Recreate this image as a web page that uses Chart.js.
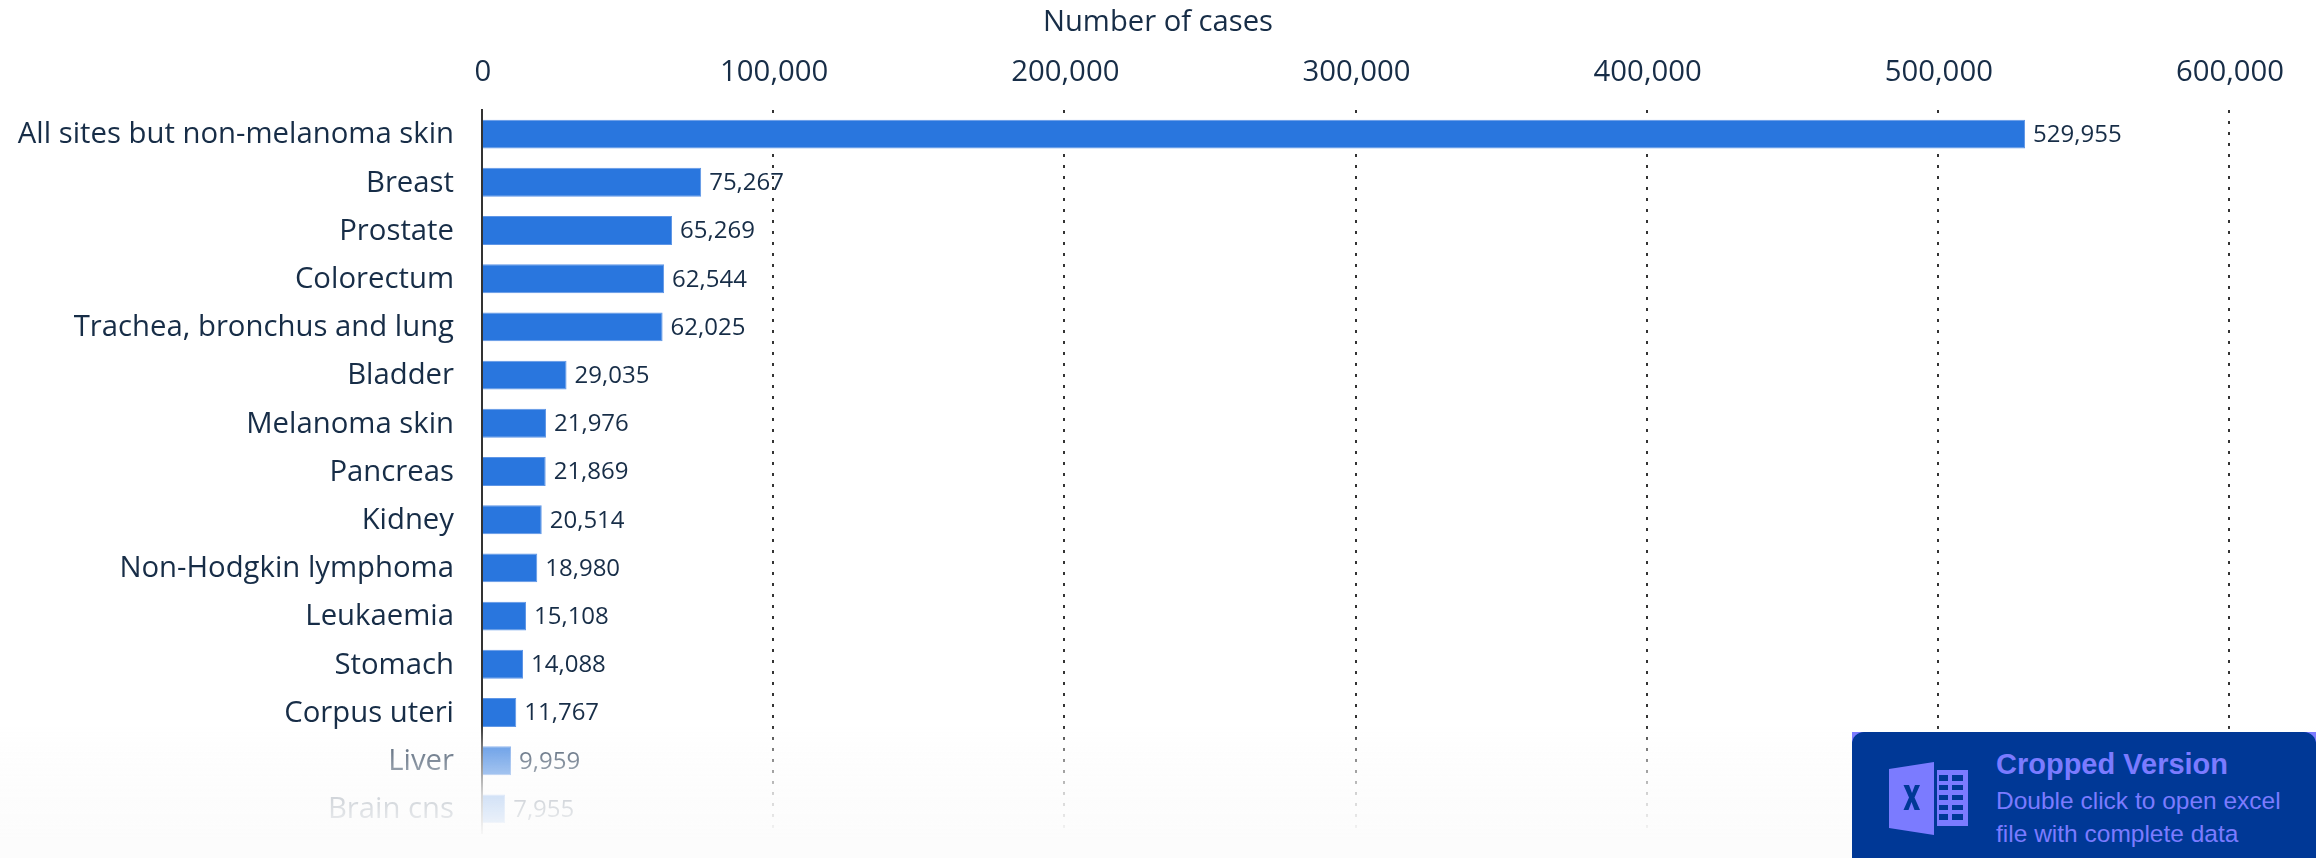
<!DOCTYPE html>
<html>
<head>
<meta charset="utf-8">
<title>Number of cases</title>
<script src="https://cdn.jsdelivr.net/npm/chart.js@4"></script>
<style>
  html, body { margin: 0; padding: 0; background: #fff; overflow: hidden; }
  #wrap { position: relative; width: 2316px; height: 858px; }
  #fade {
    position: absolute; left: 0; right: 0; bottom: 0; height: 133px;
    background: linear-gradient(to bottom, rgba(252,252,252,0) 0%, rgba(252,252,252,0.33) 15%, rgba(252,252,252,0.58) 37%, rgba(252,252,252,0.8) 52%, rgba(252,252,252,0.92) 74%, rgba(252,252,252,1) 86%);
  }
  #badge {
    position: absolute; left: 1852px; top: 732px; width: 464px; height: 126px;
    background: #7b7bff;
  }
  #badgeInner {
    position: absolute; inset: 0; background: #003896; border-radius: 12px 12px 0 0;
    color: #7b7bff; font-family: "Liberation Sans", Arial, sans-serif;
  }
  #badgeInner svg { position: absolute; left: 37px; top: 30px; }
  #badgeTitle { position: absolute; left: 144px; top: 16px; font-size: 29px; font-weight: bold; white-space: nowrap; }
  #badgeText { position: absolute; left: 144px; top: 52px; font-size: 24.5px; line-height: 33px; white-space: nowrap; }
</style>
</head>
<body>
<div id="wrap">
  <canvas id="casesChart" width="2316" height="858"></canvas>
  <div id="fade"></div>
  <div id="badge"><div id="badgeInner">
    <svg width="82" height="74" viewBox="0 0 82 74">
      <path fill="#7b7bff" d="M0 7 L45 0 V73 L0 66 Z"/>
      <path fill="#003896" d="M14.5 23 H20 L23 31 L26 23 H31 L25.5 35.5 L31 48 H25.5 L22.5 40 L19.5 48 H14.5 L20 35.5 Z"/>
      <path fill="#7b7bff" fill-rule="evenodd" d="M48 8 H79 V64 H48 Z M50 13 V19 H59 V13 Z M63 13 V19 H74 V13 Z M50 23 V28 H59 V23 Z M63 23 V28 H74 V23 Z M50 33 V38 H59 V33 Z M63 33 V38 H74 V33 Z M50 43 V48 H59 V43 Z M63 43 V48 H74 V43 Z M50 52 V58 H59 V52 Z M63 52 V58 H74 V52 Z"/>
    </svg>
    <div id="badgeTitle">Cropped Version</div>
    <div id="badgeText">Double click to open excel<br>file with complete data</div>
  </div></div>
</div>
<script>
const categories = ['All sites but non-melanoma skin', 'Breast', 'Prostate', 'Colorectum',
  'Trachea, bronchus and lung', 'Bladder', 'Melanoma skin', 'Pancreas', 'Kidney',
  'Non-Hodgkin lymphoma', 'Leukaemia', 'Stomach', 'Corpus uteri', 'Liver', 'Brain cns'];
const cases = [529955, 75267, 65269, 62544, 62025, 29035, 21976, 21869, 20514, 18980, 15108, 14088, 11767, 9959, 7955];
const xTicks = [0, 100000, 200000, 300000, 400000, 500000, 600000];
const xTitle = 'Number of cases';

const textColor = '#172d47';
const fontFamily = '"Open Sans", sans-serif';

//value labels at the end of each bar, axis title centred on the whole page
const chartText = {
  id: 'chartText',
  afterDatasetsDraw(chart) {
    const ctx = chart.ctx;
    ctx.save();
    ctx.fillStyle = textColor;
    ctx.textBaseline = 'middle';
    ctx.font = '24px ' + fontFamily;
    ctx.textAlign = 'left';
    chart.getDatasetMeta(0).data.forEach((bar, i) => {
      ctx.fillText(cases[i].toLocaleString('en-US'), bar.x + 8, bar.y + 1);
    });
    ctx.font = '29.2px ' + fontFamily;
    ctx.textAlign = 'center';
    ctx.fillText(xTitle, chart.width / 2, 22.5);
    ctx.restore();
  }
};

new Chart(document.getElementById('casesChart').getContext('2d'), {
  type: 'bar',
  data: {
    labels: categories,
    datasets: [{
      data: cases,
      backgroundColor: '#2976de',
      borderColor: '#5f96e6',
      borderWidth: 1,
      barPercentage: 0.6,
      categoryPercentage: 1
    }]
  },
  options: {
    indexAxis: 'y',
    responsive: false,
    animation: false,
    layout: { padding: { right: 87, bottom: 25 } },
    plugins: {
      legend: { display: false },
      tooltip: { enabled: false }
    },
    scales: {
      x: {
        position: 'top',
        min: 0,
        max: 600000,
        afterFit(scale) { scale.height = 110; scale.paddingLeft = 0; scale.paddingRight = 0; },
        afterBuildTicks(scale) { scale.ticks = xTicks.map(value => ({ value })); },
        border: { display: false, dash: [3, 8] },
        grid: { drawTicks: false, color: '#333333', lineWidth: 2 },
        ticks: {
          padding: 20,
          labelOffset: 1,
          maxRotation: 0,
          color: textColor,
          font: { family: fontFamily, size: 29.3 },
          callback: value => value.toLocaleString('en-US')
        }
      },
      y: {
        afterFit(scale) { scale.width = 482; scale.paddingTop = 0; scale.paddingBottom = 0; },
        border: { display: true, color: '#333333', width: 2, z: 1 },
        grid: { display: false, drawTicks: false },
        ticks: {
          autoSkip: false,
          padding: 28,
          labelOffset: 1,
          color: textColor,
          font: { family: fontFamily, size: 29.3 }
        }
      }
    }
  },
  plugins: [chartText]
});
</script>
</body>
</html>
